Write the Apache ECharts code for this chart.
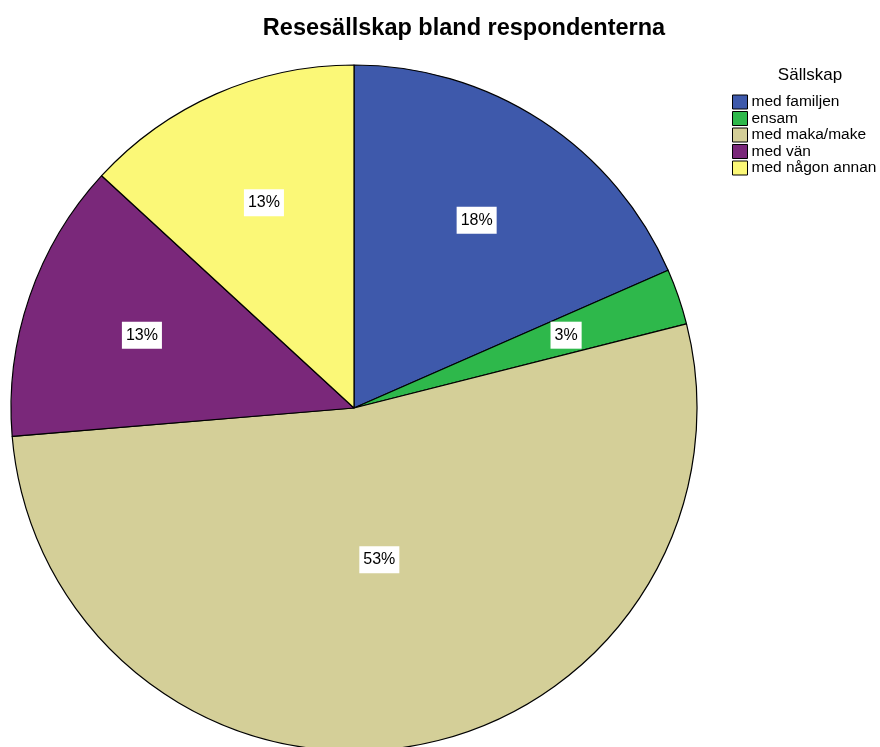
<!DOCTYPE html>
<html>
<head>
<meta charset="utf-8">
<style>
  html, body { margin: 0; padding: 0; background: #ffffff; }
  #chart { width: 880px; height: 747px; }
</style>
<script src="https://cdn.jsdelivr.net/npm/echarts@6/dist/echarts.min.js"></script>
</head>
<body>
<div id="chart"></div>
<script>
// Travel company among respondents (counts per category)
const categories = ['med familjen', 'ensam', 'med maka/make', 'med vän', 'med någon annan'];
const counts = [14, 2, 40, 10, 10];
const colors = ['#3e59ab', '#2eb84b', '#d4cf98', '#7a287a', '#fbf877'];

// The large slice keeps its label nearer the centre
const innerLabelCats = ['med maka/make'];

const chart = echarts.init(document.getElementById('chart'), null, { renderer: 'canvas' });

const CENTER = [354, 408];
const R = 343;

const labelStyle = {
  position: 'inside',
  formatter: '{d}%',
  color: '#000',
  fontFamily: 'Liberation Sans, Arial, sans-serif',
  fontSize: 16,
  lineHeight: 16,
  backgroundColor: '#ffffff',
  padding: [6, 4, 5, 4]
};

// transparent pie used only to carry percentage labels at a given radius
function labelRing(name, outer, showFn) {
  return {
    name,
    type: 'pie',
    center: CENTER,
    radius: [0, outer],
    startAngle: 90,
    clockwise: true,
    avoidLabelOverlap: false,
    silent: true,
    percentPrecision: 0,
    legendHoverLink: false,
    label: labelStyle,
    labelLine: { show: false },
    emphasis: { disabled: true },
    z: 3,
    data: categories.map((c, i) => ({
      name: c,
      value: counts[i],
      itemStyle: { color: 'rgba(0,0,0,0)', borderWidth: 0 },
      label: { show: showFn(c) }
    }))
  };
}

chart.setOption({
  animation: false,
  backgroundColor: '#ffffff',
  title: [
    {
      text: 'Resesällskap bland respondenterna',
      left: 459,
      top: 12,
      textAlign: 'center',
      textStyle: {
        fontFamily: 'Liberation Sans, Arial, sans-serif',
        fontWeight: 'bold',
        fontSize: 23.5,
        color: '#000'
      }
    },
    {
      text: 'Sällskap',
      left: 805,
      top: 62,
      textAlign: 'center',
      textStyle: {
        fontFamily: 'Liberation Sans, Arial, sans-serif',
        fontWeight: 'normal',
        fontSize: 17,
        color: '#000'
      }
    }
  ],
  legend: {
    data: categories,
    orient: 'vertical',
    left: 732,
    top: 94,
    icon: 'rect',
    itemWidth: 15,
    itemHeight: 14,
    itemGap: 0.5,
    padding: 0,
    selectedMode: false,
    itemStyle: { borderColor: '#000', borderWidth: 1 },
    textStyle: {
      fontFamily: 'Liberation Sans, Arial, sans-serif',
      fontSize: 15.5,
      lineHeight: 14,
      color: '#000',
      padding: [0, 0, 0, -1]
    }
  },
  series: [
    {
      name: 'Sällskap',
      type: 'pie',
      center: CENTER,
      radius: [0, R],
      startAngle: 90,
      clockwise: true,
      silent: true,
      itemStyle: { borderColor: '#000', borderWidth: 1.2 },
      label: { show: false },
      labelLine: { show: false },
      emphasis: { disabled: true },
      data: categories.map((c, i) => ({
        name: c,
        value: counts[i],
        itemStyle: { color: colors[i] }
      }))
    },
    labelRing('labels-outer', 2 * R * 0.645, c => !innerLabelCats.includes(c)),
    labelRing('labels-inner', 2 * R * 0.44, c => innerLabelCats.includes(c))
  ]
});
</script>
</body>
</html>
